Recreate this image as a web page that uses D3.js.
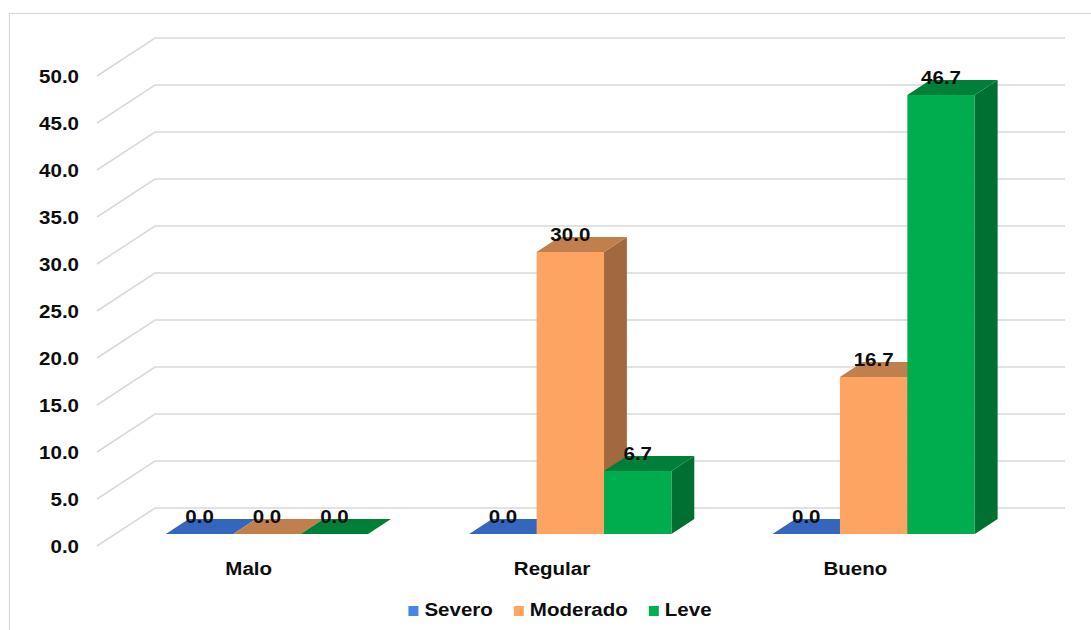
<!DOCTYPE html>
<html>
<head>
<meta charset="utf-8">
<script src="https://cdn.jsdelivr.net/npm/d3@7"></script>
<style>
  html, body { margin: 0; padding: 0; background: #ffffff; }
  svg { display: block; }
  text { font-family: "Liberation Sans", Arial, sans-serif; font-weight: bold; fill: #0d0d0d; }
</style>
</head>
<body>
<svg id="chart" width="1091" height="630"></svg>
<script>
// Data
const categories = ["Malo", "Regular", "Bueno"];
const series = ["Severo", "Moderado", "Leve"];
const severo = [0.0, 0.0, 0.0];
const moderado = [0.0, 30.0, 16.7];
const leve = [0.0, 6.7, 46.7];
const yTicks = [0, 5, 10, 15, 20, 25, 30, 35, 40, 45, 50];

const seriesValues = [severo, moderado, leve];

// Face colours per series: front, top, side
const palette = {
  Severo:   { front: "#4472c4", top: "#3566bd", side: "#2b5299", legend: "#4a84e6" },
  Moderado: { front: "#fda462", top: "#c07f4c", side: "#a2693e", legend: "#ffa55f" },
  Leve:     { front: "#00ad4e", top: "#007f38", side: "#006f32", legend: "#00b050" }
};

const svg = d3.select("#chart");

// Oblique projection: full depth offsets
const DX = 58, DY = 38;
const zFront = 0.316, zBack = 0.71;   // bar depth range inside the floor
const stretch = 1.08;                 // horizontal text stretch
const fs = 19;

const y = d3.scaleLinear().domain([0, 50]).range([546, 76]);
const x0 = d3.scaleBand().domain(categories).range([97, 1007]);
const barW = x0.bandwidth() / 4.5;
const x1 = d3.scaleBand().domain(series)
  .range([0.75 * barW, x0.bandwidth() - 0.75 * barW]);

const proj = (x, v, z) => [x + DX * z, y(v) - DY * z];

// Outer border
svg.append("rect")
  .attr("x", 9.5).attr("y", 13.5)
  .attr("width", 1200).attr("height", 800)
  .attr("fill", "none").attr("stroke", "#d9d9d9").attr("stroke-width", 1.2);

// Gridlines: side wall diagonal + back wall horizontal
const grid = svg.append("g").attr("stroke", "#d9d9d9").attr("stroke-width", 1.5).attr("fill", "none");
yTicks.forEach(t => {
  const a = proj(97, t, 0), b = proj(97, t, 1), c = proj(1007, t, 1);
  grid.append("path").attr("d", `M${a[0]},${a[1]}L${b[0]},${b[1]}L${c[0]},${c[1]}`);
});

// Y axis labels
svg.append("g").selectAll("text").data(yTicks).join("text")
  .attr("transform", d => `translate(79,${y(d)}) scale(${stretch},1)`)
  .attr("text-anchor", "end")
  .attr("dy", "0.36em")
  .attr("font-size", fs)
  .text(d => d.toFixed(1));

// Bars
const barsG = svg.append("g");
const dx = DX * (zBack - zFront), dy = DY * (zBack - zFront);
categories.forEach((cat, ci) => {
  series.forEach((s, si) => {
    const v = seriesValues[si][ci];
    const xl = x0(cat) + x1(s);
    const [fx0, fyTop] = proj(xl, v, zFront);
    const [, fyBase] = proj(xl, 0, zFront);
    const fx1 = fx0 + x1.bandwidth();
    const c = palette[s];
    // side face
    if (v > 0) {
      barsG.append("path")
        .attr("d", `M${fx1},${fyTop}L${fx1 + dx},${fyTop - dy}L${fx1 + dx},${fyBase - dy}L${fx1},${fyBase}Z`)
        .attr("fill", c.side);
    }
    // top face
    barsG.append("path")
      .attr("d", `M${fx0},${fyTop}L${fx1},${fyTop}L${fx1 + dx},${fyTop - dy}L${fx0 + dx},${fyTop - dy}Z`)
      .attr("fill", c.top);
    // front face
    if (v > 0) {
      barsG.append("rect")
        .attr("x", fx0).attr("y", fyTop)
        .attr("width", x1.bandwidth()).attr("height", fyBase - fyTop)
        .attr("fill", c.front);
    }
  });
});

// Data labels
const labelsG = svg.append("g");
categories.forEach((cat, ci) => {
  series.forEach((s, si) => {
    const v = seriesValues[si][ci];
    const [fx0, fyTop] = proj(x0(cat) + x1(s), v, zFront);
    labelsG.append("text")
      .attr("transform", `translate(${fx0 + x1.bandwidth() / 2},${fyTop - 11}) scale(${stretch},1)`)
      .attr("text-anchor", "middle")
      .attr("font-size", fs)
      .text(v.toFixed(1));
  });
});

// Category labels
svg.append("g").selectAll("text").data(categories).join("text")
  .attr("transform", d => `translate(${x0(d) + x0.bandwidth() / 2},575) scale(${stretch},1)`)
  .attr("text-anchor", "middle")
  .attr("font-size", fs)
  .text(d => d);

// Legend
const legend = svg.append("g");
const items = series.map(s => {
  const g = legend.append("g");
  g.append("rect").attr("width", 10).attr("height", 10).attr("y", -10).attr("fill", palette[s].legend);
  const t = g.append("text").attr("font-size", fs)
    .attr("transform", `translate(16,0) scale(${stretch},1)`).text(s);
  return { g, w: 16 + t.node().getComputedTextLength() * stretch };
});
const gap = 21;
const total = d3.sum(items, d => d.w) + gap * (items.length - 1);
let lx = 560 - total / 2;
items.forEach(it => {
  it.g.attr("transform", `translate(${lx},616)`);
  lx += it.w + gap;
});
</script>
</body>
</html>
